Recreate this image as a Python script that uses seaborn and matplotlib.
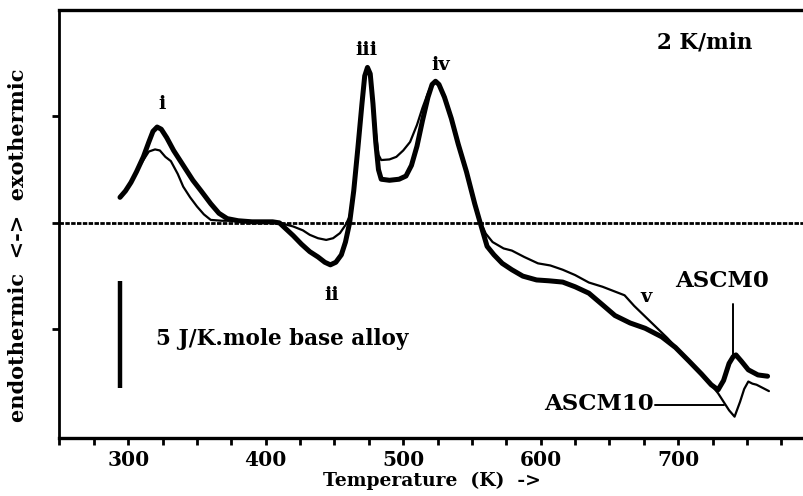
import matplotlib
matplotlib.use('Agg')
import numpy as np
import pandas as pd
import seaborn as sns
import matplotlib.pyplot as plt
from matplotlib.ticker import MultipleLocator, NullFormatter

# temperatures (K) and signal (J/K.mole)
t_ascm0 = [294, 298, 302, 306, 311, 315, 318, 321, 324, 328, 333, 340, 347, 353,
           360, 366, 372, 380, 390, 400, 405, 410, 415, 420, 426, 432, 438, 443,
           447, 451, 455, 458, 461, 464, 467, 470, 472, 474, 476, 478, 480, 482,
           484, 490, 497, 502, 506, 510, 514, 518, 521, 523.5, 526, 530, 535, 540,
           546, 552, 556, 561, 566, 572, 579, 587, 597, 606, 616, 625, 635, 645,
           654, 665, 676, 688, 698, 708, 717, 724, 729, 733, 737, 740, 742, 746,
           751, 758, 765]
s_ascm0 = [1.2, 1.5, 1.9, 2.4, 3.1, 3.8, 4.3, 4.5, 4.4, 4.0, 3.4, 2.7, 2.0, 1.5,
           0.9, 0.45, 0.2, 0.1, 0.05, 0.05, 0.05, 0.0, -0.3, -0.6, -1.0, -1.35, -1.6, -1.85,
           -1.97, -1.85, -1.5, -0.9, 0.0, 1.5, 3.5, 5.6, 6.9, 7.3, 7.0, 5.6, 3.8, 2.5,
           2.05, 2.0, 2.05, 2.2, 2.7, 3.6, 4.8, 5.9, 6.5, 6.65, 6.5, 5.9, 4.9, 3.7,
           2.4, 0.9, 0.0, -1.1, -1.5, -1.9, -2.2, -2.5, -2.68, -2.72, -2.78, -3.0, -3.3, -3.85,
           -4.35, -4.7, -4.95, -5.35, -5.85, -6.5, -7.1, -7.6, -7.84, -7.4, -6.6, -6.28, -6.2, -6.5,
           -6.9, -7.14, -7.2]

t_ascm10 = [294, 298, 302, 306, 311, 315, 319.5, 323, 327, 331, 336, 340, 345, 350,
            355, 360, 368, 380, 390, 400, 410, 416, 420, 427, 432, 438, 444, 449,
            454, 458, 461, 464, 467, 470, 472, 474, 476, 478, 480, 482, 484, 490,
            495, 500, 505, 510, 514, 518, 521, 523.5, 526, 530, 535, 540, 546, 552,
            556, 560, 565, 573, 579, 588, 598, 607, 616, 625, 635, 645, 655, 661,
            668, 676, 684, 692, 700, 708, 717, 724, 729, 733, 737, 741, 745, 748,
            751, 754, 757, 766]
s_ascm10 = [1.2, 1.5, 1.9, 2.4, 2.95, 3.35, 3.45, 3.4, 3.1, 2.9, 2.3, 1.7, 1.2, 0.77,
            0.4, 0.14, 0.1, 0.1, 0.05, 0.05, 0.0, -0.1, -0.17, -0.35, -0.56, -0.72, -0.8, -0.72,
            -0.48, -0.1, 0.3, 1.5, 3.5, 5.6, 6.9, 7.3, 7.0, 5.8, 4.3, 3.2, 2.95, 2.98,
            3.1, 3.4, 3.8, 4.6, 5.4, 6.1, 6.55, 6.65, 6.5, 6.0, 5.0, 3.8, 2.5, 1.0,
            0.1, -0.5, -0.9, -1.2, -1.3, -1.6, -1.9, -2.0, -2.2, -2.45, -2.8, -3.0, -3.25, -3.4,
            -3.9, -4.4, -4.9, -5.4, -5.95, -6.5, -7.1, -7.6, -8.0, -8.4, -8.8, -9.1, -8.4, -7.8,
            -7.45, -7.55, -7.6, -7.9]

peak_labels = ['i', 'ii', 'iii', 'iv', 'v']
peak_t = [324.5, 448, 473.6, 527, 676.7]
peak_s = [5.6, -3.4, 8.1, 7.4, -3.5]

x_ticks = [300, 400, 500, 600, 700]

sns.set_style('white')
plt.rcParams['font.family'] = ['DejaVu Serif']
plt.rcParams['font.weight'] = 'bold'
plt.rcParams['text.color'] = 'black'
plt.rcParams['axes.labelcolor'] = 'black'
plt.rcParams['xtick.color'] = 'black'
plt.rcParams['ytick.color'] = 'black'
plt.rcParams['axes.edgecolor'] = 'black'

fig = plt.figure(figsize=(8.04, 4.96), dpi=100)
ax = fig.add_axes([0.074, 0.117, 0.926, 0.863])

df0 = pd.DataFrame({'T': t_ascm0, 's': s_ascm0})
df10 = pd.DataFrame({'T': t_ascm10, 's': s_ascm10})

ax.axhline(0, color='black', lw=2.0, ls=(0, (1.6, 0.5)), zorder=1)
sns.lineplot(data=df10, x='T', y='s', ax=ax, color='black', lw=1.6,
             sort=False, estimator=None, zorder=3)
sns.lineplot(data=df0, x='T', y='s', ax=ax, color='black', lw=3.6,
             sort=False, estimator=None, zorder=4)

ax.set_xlim(250, 791.5)
ax.set_ylim(-10.1, 10)

ax.xaxis.set_minor_locator(MultipleLocator(25))
ax.set_xticks(x_ticks)
ax.set_yticks([-5, 0, 5])
ax.yaxis.set_major_formatter(NullFormatter())
ax.tick_params(axis='x', which='both', direction='out', length=5, width=2,
               labelsize=14.5, pad=4, bottom=True)
ax.tick_params(axis='y', which='major', direction='out', length=5, width=2, left=True)
for lab in ax.get_xticklabels():
    lab.set_fontweight('bold')

ax.spines['right'].set_visible(False)
ax.spines['top'].set_linewidth(2.4)
ax.spines['bottom'].set_linewidth(2.4)
ax.spines['left'].set_linewidth(2.0)

ax.set_xlabel('Temperature  (K)  ->', fontsize=13.5, fontweight='bold', labelpad=1)
ax.set_ylabel('')
fig.text(0.022, 0.505, 'endothermic  <->  exothermic', rotation=90, fontsize=15,
         fontweight='bold', ha='center', va='center')

for lab, tx, sy in zip(peak_labels, peak_t, peak_s):
    ax.text(tx, sy, lab, fontsize=14, fontweight='bold', ha='center', va='center')

ax.text(719, 8.45, '2 K/min', fontsize=15.5, fontweight='bold', ha='center', va='center')

# scale bar
ax.plot([294.2, 294.2], [-2.75, -7.75], color='black', lw=3.2, solid_capstyle='butt')
ax.text(320, -5.45, '5 J/K.mole base alloy', fontsize=15.5, fontweight='bold',
        ha='left', va='center')

# curve names
ax.text(732, -2.75, 'ASCM0', fontsize=16.5, fontweight='bold', ha='center', va='center')
ax.plot([739.7, 739.7], [-3.8, -6.2], color='black', lw=1.4)
ax.text(682, -8.5, 'ASCM10', fontsize=16.5, fontweight='bold', ha='right', va='center')
ax.plot([683, 733], [-8.55, -8.55], color='black', lw=1.4)

fig.savefig('out.png', dpi=100)
